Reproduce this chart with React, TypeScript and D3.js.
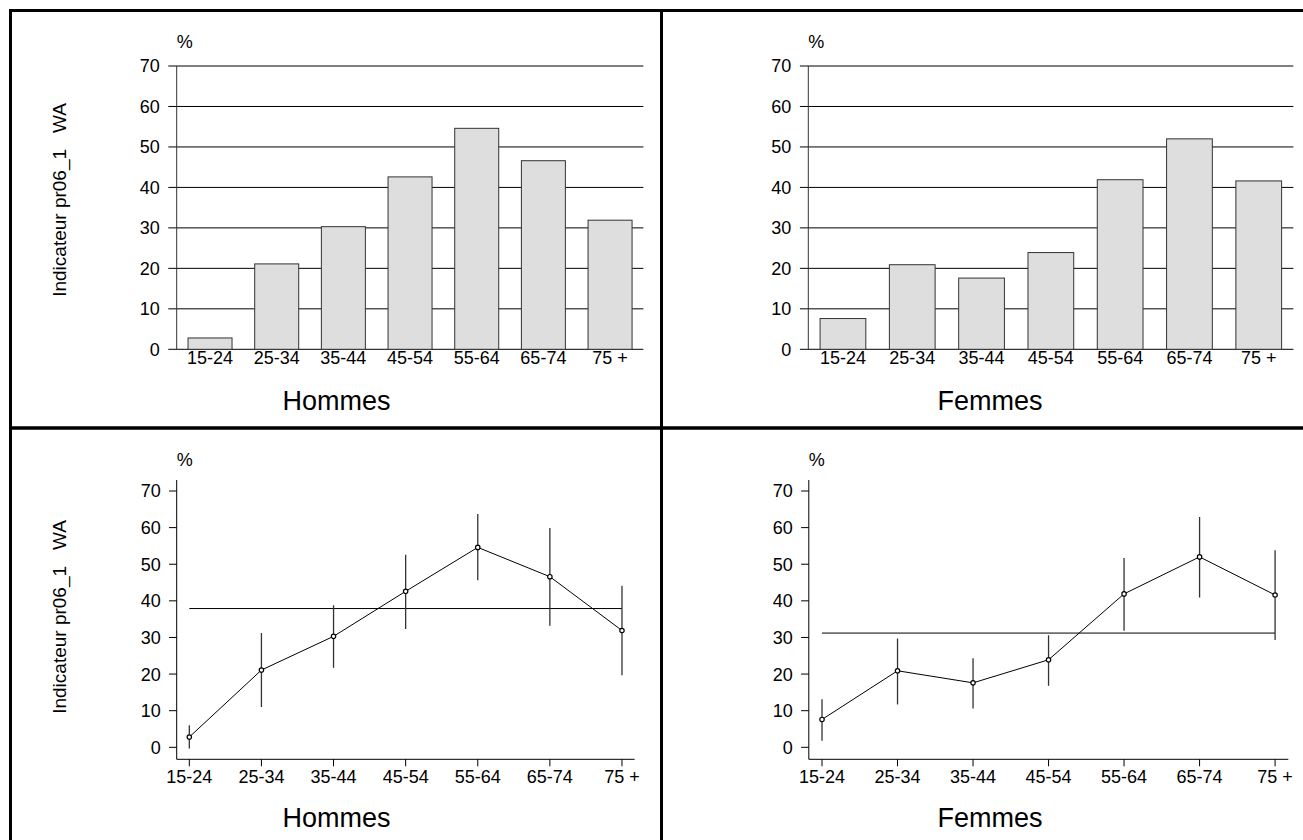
import React from "react";
import * as d3 from "d3";

const categories = ["15-24", "25-34", "35-44", "45-54", "55-64", "65-74", "75 +"];
const hommesValues = [2.8, 21.1, 30.3, 42.6, 54.6, 46.6, 31.9];
const femmesValues = [7.6, 20.9, 17.6, 23.9, 41.9, 52.0, 41.6];
const hommesLower = [-0.3, 11.0, 21.7, 32.3, 45.6, 33.2, 19.7];
const hommesUpper = [6.0, 31.2, 38.8, 52.6, 63.7, 59.9, 44.1];
const femmesLower = [1.8, 11.7, 10.6, 16.8, 31.8, 40.9, 29.3];
const femmesUpper = [13.1, 29.7, 24.3, 30.6, 51.7, 62.9, 53.8];
const hommesMean = 37.9;
const femmesMean = 31.2;
const yTicks = [0, 10, 20, 30, 40, 50, 60, 70];
const groupTitles = ["Hommes", "Femmes"];
const yTitle = "Indicateur pr06_1\u00A0\u00A0\u00A0WA";

const FONT = "'Liberation Sans', Arial, Helvetica, sans-serif";

type BarProps = { left: number; right: number; values: number[]; title: string; titleX: number; yLabel?: boolean };

function BarPanel({ left, right, values, title, titleX, yLabel }: BarProps) {
  const y = d3.scaleLinear().domain([0, 70]).range([349.3, 66]);
  const x = d3.scaleBand<string>().domain(categories).range([left, right]).paddingInner(0.34).paddingOuter(0.17);
  return (
    <g fontFamily={FONT}>
      {yLabel && (
        <text transform={`translate(66,200) rotate(-90)`} textAnchor="middle" fontSize={19}>
          {yTitle}
        </text>
      )}
      <text x={left} y={48.3} fontSize={18}>%</text>
      {yTicks.map((t) => (
        <g key={t}>
          <line x1={left - 8.4} x2={right} y1={y(t)} y2={y(t)} stroke="#000" strokeWidth={1} />
          <text x={left - 17} y={y(t)} dy="0.36em" textAnchor="end" fontSize={18}>{t}</text>
        </g>
      ))}
      <line x1={left} x2={left} y1={y(70)} y2={y(0)} stroke="#333" strokeWidth={1} />
      {categories.map((c, i) => (
        <rect key={c} x={x(c)} y={y(values[i])} width={x.bandwidth()} height={y(0) - y(values[i])} fill="#dedede" stroke="#333" strokeWidth={1} />
      ))}
      {categories.map((c) => (
        <text key={c} x={(x(c) as number) + x.bandwidth() / 2} y={364} textAnchor="middle" fontSize={18}>{c}</text>
      ))}
      <text x={titleX} y={410} textAnchor="middle" fontSize={27}>{title}</text>
    </g>
  );
}

type LineProps = { left: number; right: number; values: number[]; lower: number[]; upper: number[]; mean: number; title: string; titleX: number; yLabel?: boolean };

function LinePanel({ left, right, values, lower, upper, mean, title, titleX, yLabel }: LineProps) {
  const y = d3.scaleLinear().domain([0, 70]).range([747.3, 491]);
  const x = d3.scalePoint<string>().domain(categories).range([left, right]).padding(0.175);
  const axisY = 759.3;
  const line = d3.line<number>().x((_, i) => x(categories[i]) as number).y((v) => y(v));
  const first = x(categories[0]) as number;
  const last = x(categories[categories.length - 1]) as number;
  return (
    <g fontFamily={FONT}>
      {yLabel && (
        <text transform={`translate(66,617) rotate(-90)`} textAnchor="middle" fontSize={19}>
          {yTitle}
        </text>
      )}
      <text x={left} y={466} fontSize={18}>%</text>
      <line x1={left} x2={left} y1={480} y2={axisY} stroke="#000" strokeWidth={1} />
      <line x1={left} x2={right} y1={axisY} y2={axisY} stroke="#000" strokeWidth={1} />
      {yTicks.map((t) => (
        <g key={t}>
          <line x1={left - 7.7} x2={left} y1={y(t)} y2={y(t)} stroke="#000" strokeWidth={1} />
          <text x={left - 16} y={y(t)} dy="0.36em" textAnchor="end" fontSize={18}>{t}</text>
        </g>
      ))}
      {categories.map((c) => (
        <g key={c}>
          <line x1={x(c)} x2={x(c)} y1={axisY} y2={axisY + 7} stroke="#000" strokeWidth={1} />
          <text x={x(c)} y={782.7} textAnchor="middle" fontSize={18}>{c}</text>
        </g>
      ))}
      <line x1={first} x2={last} y1={y(mean)} y2={y(mean)} stroke="#000" strokeWidth={1} />
      {categories.map((c, i) => (
        <line key={c} x1={x(c)} x2={x(c)} y1={y(upper[i])} y2={y(lower[i])} stroke="#333" strokeWidth={1.3} />
      ))}
      <path d={line(values) || ""} fill="none" stroke="#000" strokeWidth={1} />
      {categories.map((c, i) => (
        <circle key={c} cx={x(c)} cy={y(values[i])} r={2.2} fill="#fff" stroke="#000" strokeWidth={1.2} />
      ))}
      <text x={titleX} y={827.3} textAnchor="middle" fontSize={27}>{title}</text>
    </g>
  );
}

export default function App() {
  return (
    <div style={{ position: "absolute", left: 0, top: 0 }}>
      <svg width={1303} height={840} style={{ display: "block", background: "#fff" }}>
        <rect x={0} y={0} width={1303} height={840} fill="#fff" />
        <rect x={10.5} y={10.5} width={1303} height={840} fill="none" stroke="#000" strokeWidth={3} />
        <line x1={661.5} x2={661.5} y1={10} y2={840} stroke="#000" strokeWidth={3} />
        <line x1={10} x2={1303} y1={428} y2={428} stroke="#000" strokeWidth={3.5} />
        <BarPanel left={176.7} right={643.4} values={hommesValues} title={groupTitles[0]} titleX={336.5} yLabel />
        <BarPanel left={808.3} right={1293.4} values={femmesValues} title={groupTitles[1]} titleX={990} />
        <LinePanel left={176.7} right={634.6} values={hommesValues} lower={hommesLower} upper={hommesUpper} mean={hommesMean} title={groupTitles[0]} titleX={336.5} yLabel />
        <LinePanel left={808.8} right={1288.3} values={femmesValues} lower={femmesLower} upper={femmesUpper} mean={femmesMean} title={groupTitles[1]} titleX={990} />
      </svg>
    </div>
  );
}
